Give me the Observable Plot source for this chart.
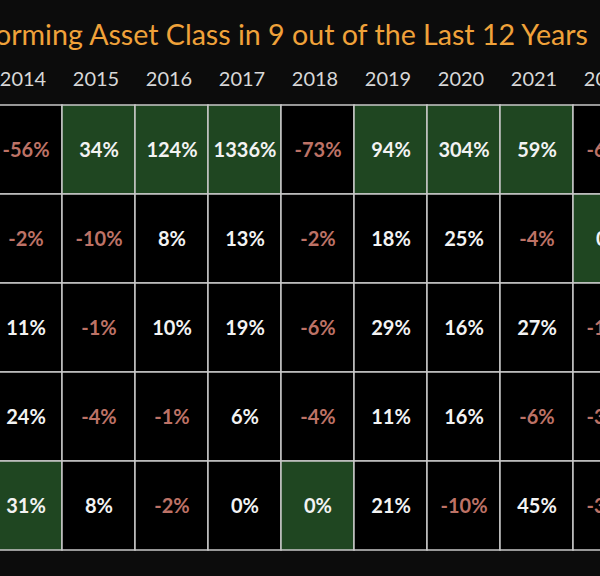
<!DOCTYPE html>
<html>
<head>
<meta charset="utf-8">
<script src="https://cdn.jsdelivr.net/npm/d3@7"></script>
<script src="https://cdn.jsdelivr.net/npm/@observablehq/plot@0.6"></script>
<style>
  html, body { margin: 0; padding: 0; background: #0c0c0c; overflow: hidden; }
  #chart { width: 600px; height: 576px; }
</style>
</head>
<body>
<div id="chart"></div>
<script>
const title = "Bitcoin Has Been the Best Performing Asset Class in 9 out of the Last 12 Years";
const years = [2014, 2015, 2016, 2017, 2018, 2019, 2020, 2021, 2022];
const assets = ["Bitcoin", "Gold", "S&P 500", "Bonds", "Real Estate"];
const bitcoin    = [-56, 34, 124, 1336, -73, 94, 304, 59, -64];
const gold       = [-2, -10, 8, 13, -2, 18, 25, -4, 0];
const sp500      = [11, -1, 10, 19, -6, 29, 16, 27, -19];
const bonds      = [24, -4, -1, 6, -4, 11, 16, -6, -31];
const realEstate = [31, 8, -2, 0, 0, 21, -10, 45, -33];
const series = [bitcoin, gold, sp500, bonds, realEstate];

const table = [];
years.forEach((yr, j) => {
  const best = d3.max(series, s => s[j]);
  series.forEach((s, i) => {
    table.push({year: yr, asset: assets[i], value: s[j], best: s[j] === best && !table.some(d => d.year === yr && d.best)});
  });
});

const W = 600, H = 576;
const plot = Plot.plot({
  width: W,
  height: H,
  margin: 0,
  style: {background: "transparent", fontFamily: "Lato, sans-serif"},
  x: {type: "band", domain: years, range: [-14, 649], padding: 0, axis: null},
  y: {type: "band", domain: assets, range: [103, 551], padding: 0, axis: null},
  marks: [
    Plot.cell(table, {
      x: "year", y: "asset", inset: 0,
      fill: d => d.best ? "#1f4621" : "#000000",
      stroke: "#c8c8c8", strokeWidth: 1.5
    }),
    Plot.text(table, {
      x: "year", y: "asset",
      text: d => `${d.value}%`,
      fill: d => d.value < 0 ? "#bd7266" : "#f3f3f3",
      fontSize: 20, fontWeight: 700, dy: 1
    }),
    Plot.text(years, {
      x: d => d, frameAnchor: "top", dy: 71, dx: -3,
      text: d => String(d),
      fill: "#d8d8d8", fontSize: 20
    })
  ]
});

const svg = d3.select(plot);
svg.append("text")
  .attr("x", 588).attr("y", 45)
  .attr("text-anchor", "end")
  .attr("fill", "#f0a23a")
  .attr("font-family", "Lato, sans-serif")
  .attr("font-size", 28.6)
  .text(title);

document.getElementById("chart").appendChild(plot);
</script>
</body>
</html>
